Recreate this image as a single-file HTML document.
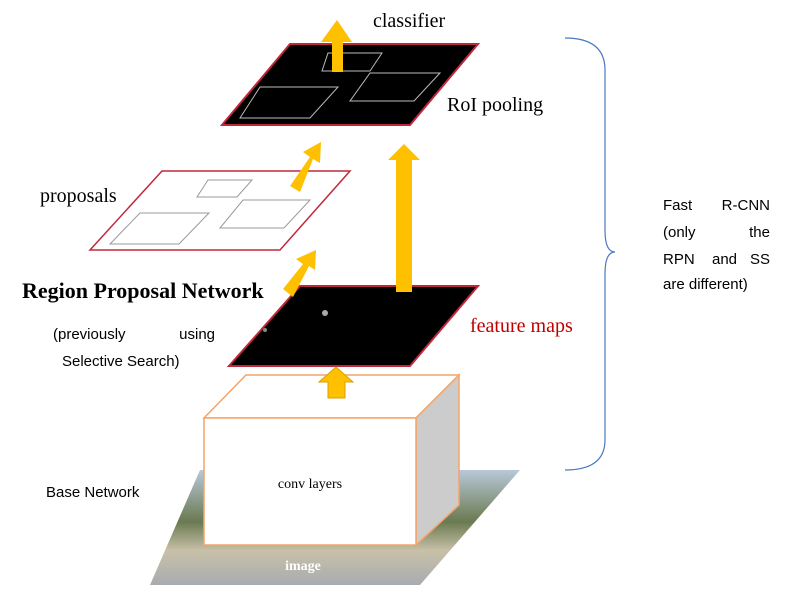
<!DOCTYPE html><html><head><style>body{margin:0;background:#fff}svg{display:block}</style></head><body>
<svg width="797" height="602" xmlns="http://www.w3.org/2000/svg">
<defs><linearGradient id="g" x1="0" y1="0" x2="0" y2="1"><stop offset="0" stop-color="#b8c8d8"/><stop offset="0.45" stop-color="#6a7a50"/><stop offset="0.7" stop-color="#c8c0a8"/><stop offset="1" stop-color="#a8acb0"/></linearGradient></defs>
<polygon points="200,470 520,470 420,585 150,585" fill="url(#g)"/>
<text x="303" y="570" font-family="Liberation Serif" font-weight="bold" font-size="14" fill="#fff" text-anchor="middle">image</text>
<polygon points="204,418 246,375 459,375 416,418" fill="#fff" stroke="#f4a46a" stroke-width="1.5"/>
<polygon points="416,418 459,375 459,505 416,545" fill="#cccccc" stroke="#f4a46a" stroke-width="1.5"/>
<rect x="204" y="418" width="212" height="127" fill="#fff" stroke="#f4a46a" stroke-width="1.5"/>
<text x="310" y="488" font-family="Liberation Serif" font-size="14" text-anchor="middle">conv layers</text>
<polygon points="300,286 478,286 410,366 229,366" fill="#000" stroke="#c0283a" stroke-width="2"/>
<circle cx="325" cy="313" r="3" fill="#aaa"/><circle cx="265" cy="330" r="2" fill="#888"/>
<polygon points="328,398 328,382 319,382 336,367 353,382 345,382 345,398" fill="#ffc000" stroke="#d9a000"/>
<text x="470" y="332" font-family="Liberation Serif" font-size="20" fill="#c00000">feature maps</text>
<polygon points="162,171 350,171 280,250 90,250" fill="#fff" stroke="#c0283a" stroke-width="1.5"/>
<polygon points="208,180 252,180 237,197 197,197" fill="none" stroke="#999"/>
<polygon points="140,213 209,213 179,244 110,244" fill="none" stroke="#999"/>
<polygon points="243,200 310,200 284,228 220,228" fill="none" stroke="#999"/>
<text x="40" y="202" font-family="Liberation Serif" font-size="20">proposals</text>
<polygon points="290,44 478,44 410,125 222,125" fill="#000" stroke="#c0283a" stroke-width="2"/>
<polygon points="260,87 338,87 310,118 240,118" fill="none" stroke="#bbb"/>
<polygon points="328,53 382,53 370,71 322,71" fill="none" stroke="#bbb"/>
<polygon points="370,73 440,73 414,101 350,101" fill="none" stroke="#bbb"/>
<text x="447" y="111" font-family="Liberation Serif" font-size="20">RoI pooling</text>
<polygon points="332,72 332,42 321,42 337,20 352,42 343,42 343,72" fill="#ffc000"/>
<text x="373" y="27" font-family="Liberation Serif" font-size="20">classifier</text>
<polygon points="290,186 310,157 303,152 321,142 320,163 313,159 300,192" fill="#ffc000"/>
<polygon points="283,289 303,264 296,259 316,250 315,270 309,266 293,297" fill="#ffc000"/>
<polygon points="396,292 396,160 388,160 404,144 420,160 412,160 412,292" fill="#ffc000"/>
<text x="22" y="298" font-family="Liberation Serif" font-weight="bold" font-size="22">Region Proposal Network</text>
<text x="53" y="339" font-family="Liberation Sans" font-size="15">(previously</text>
<text x="215" y="339" font-family="Liberation Sans" font-size="15" text-anchor="end">using</text>
<text x="62" y="366" font-family="Liberation Sans" font-size="15">Selective Search)</text>
<text x="46" y="497" font-family="Liberation Sans" font-size="15">Base Network</text>
<path d="M565,38 Q605,38 605,70 L605,230 Q605,252 615,252 Q605,252 605,274 L605,440 Q605,470 565,470" fill="none" stroke="#4a7ac0" stroke-width="1.2"/>
<g font-family="Liberation Sans" font-size="15">
<text x="663" y="210">Fast</text><text x="770" y="210" text-anchor="end">R-CNN</text>
<text x="663" y="237">(only</text><text x="770" y="237" text-anchor="end">the</text>
<text x="663" y="264">RPN</text><text x="712" y="264">and</text><text x="770" y="264" text-anchor="end">SS</text>
<text x="663" y="289">are different)</text>
</g>
</svg>
</body></html>
